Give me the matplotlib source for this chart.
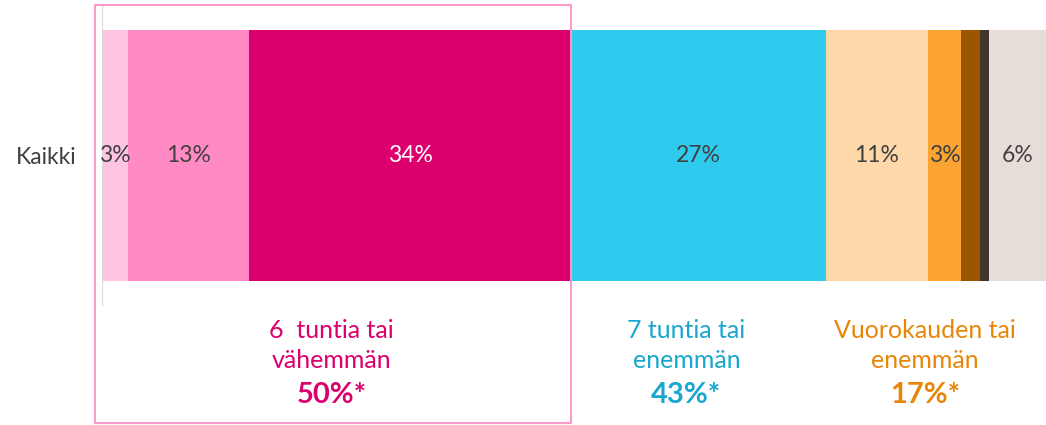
import matplotlib
matplotlib.use("Agg")
import matplotlib.pyplot as plt
from matplotlib.patches import Rectangle

plt.rcParams["font.family"] = ["Lato", "DejaVu Sans"]

category = "Kaikki"
values = [2.8, 12.8, 34.1, 27.0, 10.8, 3.5, 2.0, 1.0, 6.0]
labels = ["3%", "13%", "34%", "27%", "11%", "3%", "", "", "6%"]
colors = ["#FFC4E1", "#FF8AC4", "#DB006E", "#2ECBEF", "#FED8A9",
          "#FCA432", "#9A5600", "#40362A", "#E6DDD8"]
label_colors = ["#404040", "#404040", "white", "#404040", "#404040",
                "#404040", "#404040", "#404040", "#404040"]

group_line1 = ["6  tuntia tai", "7 tuntia tai", "Vuorokauden tai"]
group_line2 = ["vähemmän", "enemmän", "enemmän"]
group_totals = ["50%*", "43%*", "17%*"]
group_x = [24.3, 61.9, 87.2]
group_colors = ["#DB006E", "#1AA6CE", "#E8860A"]

W, H = 1046, 425
fig = plt.figure(figsize=(W / 100, H / 100), dpi=100)
ax = fig.add_axes([102 / W, 0, 944 / W, 1])

# bar spans pixel rows 30..281
unit = 251
ax.set_ylim(-0.5 - (H - 281) / unit, 0.5 + 30 / unit)
ax.set_xlim(0, 100)

left = 0
for v, lab, c, lc in zip(values, labels, colors, label_colors):
    ax.barh(0, v, left=left, height=1, color=c, edgecolor="none")
    if lab:
        ax.text(left + v / 2, 0, lab, ha="center", va="center",
                fontsize=16.5, color=lc)
    left += v

ax.set_yticks([0])
ax.set_yticklabels([category], fontsize=16.5, color="#404040")
ax.tick_params(axis="y", length=0, pad=18)
ax.set_xticks([])
for s in ax.spines.values():
    s.set_visible(False)

# thin grey axis line
ax.axvline(0, ymin=(H - 305) / H, ymax=(H - 5) / H, color="#D9D9D9", lw=1.5)

trans = ax.get_xaxis_transform()
for l1, l2, t, x, c in zip(group_line1, group_line2, group_totals, group_x, group_colors):
    ax.text(x, (H - 331) / H, l1, ha="center", va="center", fontsize=18,
            color=c, transform=trans)
    ax.text(x, (H - 361) / H, l2, ha="center", va="center", fontsize=18,
            color=c, transform=trans)
    ax.text(x, (H - 395) / H, t, ha="center", va="center", fontsize=21,
            color=c, fontweight="bold", transform=trans)

# highlight box around the first group
fig.patches.append(Rectangle((95 / W, 2 / H), (571 - 95) / W, (420 - 2) / H,
                             transform=fig.transFigure, fill=False,
                             edgecolor="#FF99CC", lw=1.5))

fig.savefig("out.png", dpi=100)
